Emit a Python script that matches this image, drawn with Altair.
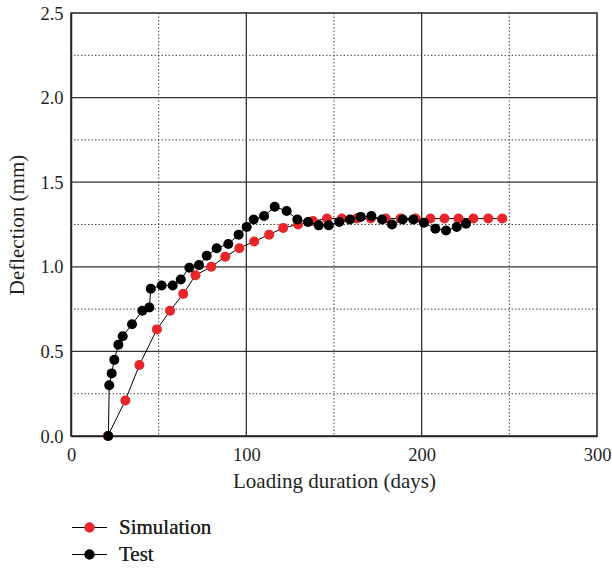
import altair as alt
import pandas as pd

# Simulated deflection over the loading period
sim_days = [21, 31, 39, 49, 56.5, 64, 71, 80, 88, 96, 104.5, 113, 121, 129.5,
            138, 146, 154.5, 163, 171, 179.5, 188, 196.5, 205, 213, 221, 229.5,
            238, 246]
sim_defl = [0.0, 0.21, 0.42, 0.63, 0.74, 0.84, 0.95, 1.0, 1.06, 1.11, 1.15,
            1.19, 1.23, 1.25, 1.27, 1.285, 1.285, 1.285, 1.285, 1.285, 1.285,
            1.285, 1.285, 1.285, 1.285, 1.285, 1.285, 1.285]

# Measured deflection from the loading test
test_days = [21.3, 21.8, 23.2, 24.7, 27.0, 29.5, 34.8, 40.7, 44.7, 45.5, 51.7,
             58.0, 62.6, 67.5, 73.0, 77.4, 83.1, 89.7, 95.6, 100.2, 104.2,
             110.1, 116.2, 123.0, 129.1, 135.2, 141.3, 147.0, 153.0, 159.1,
             165.2, 171.3, 177.4, 183.1, 189.2, 195.2, 201.3, 207.8, 213.9,
             220.0, 225.3]
test_defl = [0.0, 0.30, 0.37, 0.45, 0.54, 0.59, 0.66, 0.74, 0.76, 0.87, 0.89,
             0.89, 0.925, 0.995, 1.01, 1.065, 1.11, 1.135, 1.19, 1.235, 1.28,
             1.30, 1.355, 1.33, 1.28, 1.265, 1.245, 1.245, 1.265, 1.28, 1.295,
             1.30, 1.28, 1.25, 1.28, 1.28, 1.26, 1.225, 1.215, 1.235, 1.255]

series_names = ["Simulation", "Test"]
series_colors = ["#e8252b", "#000000"]

x_ticks = [0, 100, 200, 300]
y_ticks = [0.0, 0.5, 1.0, 1.5, 2.0, 2.5]
x_major = [100, 200]
x_minor = [50, 150, 250]
y_major = [0.5, 1.0, 1.5, 2.0]
y_minor = [0.25, 0.75, 1.25, 1.75, 2.25]

FONT = "Liberation Serif"
INK = "#231f20"

sim = pd.DataFrame({"days": sim_days, "defl": sim_defl, "series": "Simulation"})
test = pd.DataFrame({"days": test_days, "defl": test_defl, "series": "Test"})

xs = alt.Scale(domain=[0, 300], nice=False, zero=False)
ys = alt.Scale(domain=[0, 2.5], nice=False)

x_axis = alt.Axis(values=x_ticks, title="Loading duration (days)", grid=False,
                  ticks=False, labelPadding=9, titlePadding=7,
                  labelFlush=False, labelFont=FONT, labelFontSize=18.5,
                  labelColor=INK, titleFont=FONT, titleFontSize=21,
                  titleColor=INK, titleFontWeight="normal")
y_axis = alt.Axis(values=y_ticks, title="Deflection (mm)", grid=False,
                  ticks=False, format=".1f", labelPadding=8, titlePadding=12,
                  labelFont=FONT, labelFontSize=18.5, labelColor=INK,
                  titleFont=FONT, titleFontSize=21, titleColor=INK,
                  titleFontWeight="normal")

# Grid: solid at major steps, dotted at the halfway steps
vmaj = alt.Chart(pd.DataFrame({"v": x_major})).mark_rule(
    color="#333333", strokeWidth=1.3).encode(x=alt.X("v:Q", scale=xs, axis=x_axis))
vmin = alt.Chart(pd.DataFrame({"v": x_minor})).mark_rule(
    color="#444444", strokeWidth=1, strokeDash=[1.5, 2]).encode(x=alt.X("v:Q", scale=xs))
hmaj = alt.Chart(pd.DataFrame({"v": y_major})).mark_rule(
    color="#333333", strokeWidth=1.3).encode(y=alt.Y("v:Q", scale=ys, axis=y_axis))
hmin = alt.Chart(pd.DataFrame({"v": y_minor})).mark_rule(
    color="#444444", strokeWidth=1, strokeDash=[1.5, 2]).encode(y=alt.Y("v:Q", scale=ys))

LEG_X = 8
LEG_Y = 504

# Legend for the connecting lines: short black strokes, no labels
line_legend = alt.Legend(
    orient="none", legendX=LEG_X, legendY=LEG_Y, title=None,
    symbolType="M-3,0L3,0", symbolSize=136,
    symbolStrokeColor="#111111", symbolStrokeWidth=1.2,
    symbolFillColor="transparent", symbolOpacity=1,
    labelExpr="''", labelFontSize=21, labelFont=FONT,
    rowPadding=5, padding=0, zindex=0,
)
# Legend for the markers, drawn over the strokes, carrying the labels
point_legend = alt.Legend(
    orient="none", legendX=LEG_X, legendY=LEG_Y, title=None,
    symbolType="circle", symbolSize=100, symbolStrokeWidth=0,
    labelOffset=19, labelFontSize=21, labelFont=FONT, labelColor=INK,
    rowPadding=5, padding=0, zindex=1,
)


def lines(df):
    return alt.Chart(df).mark_line(strokeWidth=1).encode(
        x=alt.X("days:Q", scale=xs),
        y=alt.Y("defl:Q", scale=ys),
        stroke=alt.Stroke("series:N",
                          scale=alt.Scale(domain=series_names,
                                          range=["#000000", "#000000"]),
                          legend=line_legend),
    )


def points(df):
    return alt.Chart(df).mark_point(filled=True, size=100, opacity=1,
                                    shape="circle").encode(
        x=alt.X("days:Q", scale=xs),
        y=alt.Y("defl:Q", scale=ys),
        fill=alt.Fill("series:N",
                      scale=alt.Scale(domain=series_names, range=series_colors),
                      legend=point_legend),
    )


chart = alt.layer(
    vmaj, vmin, hmaj, hmin,
    lines(sim), points(sim),
    lines(test), points(test),
).resolve_legend(stroke="independent", fill="independent").properties(
    width=526,
    height=423,
    autosize=alt.AutoSizeParams(type="none"),
    padding={"left": 71, "top": 13, "right": 15, "bottom": 132},
    background="white",
).configure_view(
    stroke="#222222", strokeWidth=1.5,
).configure_axis(
    domainColor="#222222", domainWidth=1.5,
)

chart.save("out.html", embed_options={"renderer": "svg", "actions": False})
